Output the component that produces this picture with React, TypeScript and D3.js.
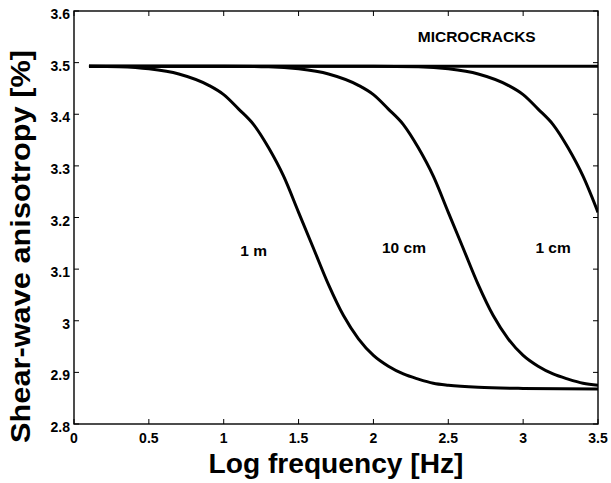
import React from "react";
import * as d3 from "d3";

const xTicks = [0, 0.5, 1, 1.5, 2, 2.5, 3, 3.5];
const yTicks = [2.8, 2.9, 3.0, 3.1, 3.2, 3.3, 3.4, 3.5, 3.6];
const xTickLabels = ["0", "0.5", "1", "1.5", "2", "2.5", "3", "3.5"];
const yTickLabels = ["2.8", "2.9", "3", "3.1", "3.2", "3.3", "3.4", "3.5", "3.6"];

// [log frequency, anisotropy %]
const flatLine: [number, number][] = [
  [0.1, 3.493], [1.0, 3.493], [2.0, 3.493], [3.0, 3.493], [3.5, 3.493],
];
const curve1m: [number, number][] = [
  [0.1, 3.493], [0.3, 3.492], [0.5, 3.488], [0.7, 3.478], [0.9, 3.456], [1.0, 3.438],
  [1.1, 3.41], [1.2, 3.38], [1.3, 3.335], [1.4, 3.28], [1.5, 3.21], [1.6, 3.14],
  [1.7, 3.07], [1.8, 3.01], [1.9, 2.965], [2.0, 2.933], [2.1, 2.912], [2.2, 2.897],
  [2.3, 2.887], [2.4, 2.879], [2.5, 2.875], [2.7, 2.871], [3.0, 2.869], [3.5, 2.868],
];
const curve10cm: [number, number][] = [
  [0.1, 3.493], [1.0, 3.493], [1.3, 3.492], [1.5, 3.488], [1.7, 3.478], [1.9, 3.456],
  [2.0, 3.438], [2.1, 3.41], [2.2, 3.38], [2.3, 3.335], [2.4, 3.28], [2.5, 3.21],
  [2.6, 3.14], [2.7, 3.07], [2.8, 3.01], [2.9, 2.965], [3.0, 2.933], [3.1, 2.912],
  [3.2, 2.897], [3.3, 2.887], [3.4, 2.879], [3.5, 2.875],
];
const curve1cm: [number, number][] = [
  [0.1, 3.493], [2.0, 3.493], [2.3, 3.492], [2.5, 3.488], [2.7, 3.478], [2.9, 3.456],
  [3.0, 3.438], [3.1, 3.41], [3.2, 3.38], [3.3, 3.335], [3.4, 3.28], [3.5, 3.21],
];
const series = [flatLine, curve1m, curve10cm, curve1cm];

const curveLabels: { text: string; x: number; y: number }[] = [
  { text: "1 m", x: 1.2, y: 3.126 },
  { text: "10 cm", x: 2.204, y: 3.132 },
  { text: "1 cm", x: 3.2, y: 3.132 },
  { text: "MICROCRACKS", x: 2.69, y: 3.54 },
];

const W = 611;
const H = 483;
const margin = { left: 74, right: 13, top: 11, bottom: 59 };

export default function App() {
  const x = d3.scaleLinear().domain([0, 3.5]).range([margin.left, W - margin.right]);
  const y = d3.scaleLinear().domain([2.8, 3.6]).range([H - margin.bottom, margin.top]);
  const line = d3
    .line<[number, number]>()
    .x((d) => x(d[0]))
    .y((d) => y(d[1]))
    .curve(d3.curveMonotoneX);
  const font = "'Liberation Sans', Arial, Helvetica, sans-serif";
  const x0 = x(0), x1 = x(3.5), y0 = y(2.8), y1 = y(3.6);
  const tl = 5;
  return (
    <svg
      width={W}
      height={H}
      style={{ position: "absolute", left: 0, top: 0, background: "#fff" }}
      fontFamily={font}
      fontWeight="bold"
    >
      <defs>
        <clipPath id="plot">
          <rect x={x0} y={y1} width={x1 - x0} height={y0 - y1} />
        </clipPath>
      </defs>
      <rect width={W} height={H} fill="#fff" />
      {xTicks.map((t, i) => (
        <g key={"xt" + i}>
          <line x1={x(t)} x2={x(t)} y1={y0} y2={y0 - tl} stroke="#000" strokeWidth={1} />
          <line x1={x(t)} x2={x(t)} y1={y1} y2={y1 + tl} stroke="#000" strokeWidth={1} />
          <text x={x(t)} y={y0 + 19} textAnchor="middle" fontSize={14} fill="#000">
            {xTickLabels[i]}
          </text>
        </g>
      ))}
      {yTicks.map((t, i) => (
        <g key={"yt" + i}>
          <line x1={x0} x2={x0 + tl} y1={y(t)} y2={y(t)} stroke="#000" strokeWidth={1} />
          <line x1={x1} x2={x1 - tl} y1={y(t)} y2={y(t)} stroke="#000" strokeWidth={1} />
          <text x={x0 - 4} y={y(t) + 8} textAnchor="end" fontSize={14} fill="#000">
            {yTickLabels[i]}
          </text>
        </g>
      ))}
      <rect x={x0} y={y1} width={x1 - x0} height={y0 - y1} fill="none" stroke="#000" strokeWidth={1.4} />
      <g clipPath="url(#plot)">
        {series.map((s, i) => (
          <path key={i} d={line(s) || ""} fill="none" stroke="#000" strokeWidth={3} />
        ))}
      </g>
      {curveLabels.map((l, i) => (
        <text key={i} x={x(l.x)} y={y(l.y)} textAnchor="middle" fontSize={15.5} fill="#000">
          {l.text}
        </text>
      ))}
      <text
        x={(x0 + x1) / 2}
        y={473}
        textAnchor="middle"
        fontSize={27}
        fill="#000"
        textLength={255}
        lengthAdjust="spacingAndGlyphs"
      >
        Log frequency [Hz]
      </text>
      <text
        transform={`translate(30, 246.5) rotate(-90)`}
        textAnchor="middle"
        fontSize={27}
        fill="#000"
        textLength={393}
        lengthAdjust="spacingAndGlyphs"
      >
        Shear-wave anisotropy [%]
      </text>
    </svg>
  );
}
